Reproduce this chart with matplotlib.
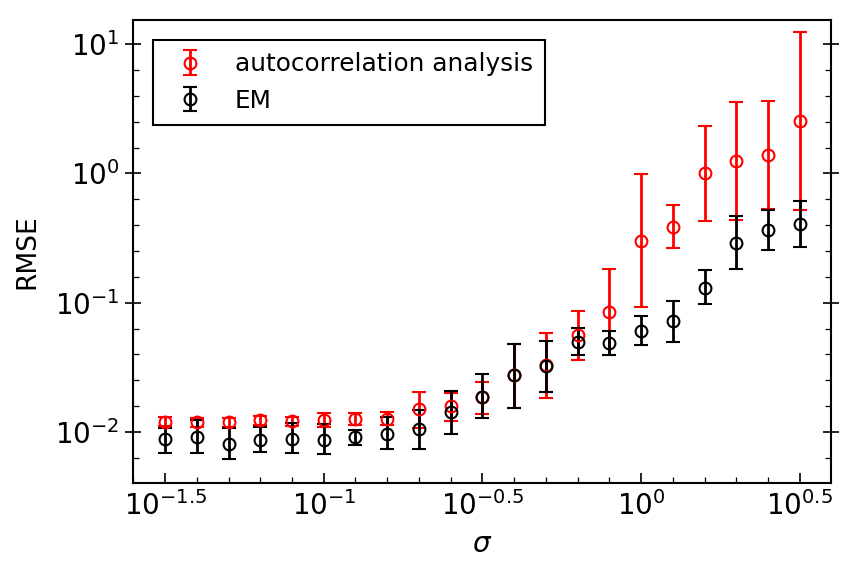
import numpy as np
import matplotlib
matplotlib.use("Agg")
import matplotlib.pyplot as plt
from matplotlib.ticker import FixedLocator, FixedFormatter, LogLocator, NullFormatter

# sigma values (log10 from -1.5 to 0.5 in steps of 0.1)
log_sigma = [-1.5, -1.4, -1.3, -1.2, -1.1, -1.0, -0.9, -0.8, -0.7, -0.6, -0.5,
             -0.4, -0.3, -0.2, -0.1, 0.0, 0.1, 0.2, 0.3, 0.4, 0.5]

# autocorrelation analysis: centre, lower and upper ends of the error bar
ac_mid = [0.0120, 0.0119, 0.0119, 0.0124, 0.0121, 0.0125, 0.0126, 0.0127, 0.0150, 0.0159, 0.0187,
          0.0275, 0.0330, 0.0562, 0.0851, 0.301, 0.386, 1.00, 1.245, 1.387, 2.53]
ac_lo = [0.0111, 0.0110, 0.0110, 0.0114, 0.0111, 0.0110, 0.0113, 0.0113, 0.0108, 0.0122, 0.0138,
         0.0154, 0.0182, 0.0360, 0.0393, 0.092, 0.263, 0.43, 0.435, 0.527, 0.52]
ac_hi = [0.0130, 0.0128, 0.0128, 0.0133, 0.0131, 0.0141, 0.0141, 0.0143, 0.0205, 0.0199, 0.0245,
         0.0484, 0.0580, 0.0861, 0.181, 0.982, 0.569, 2.32, 3.54, 3.62, 12.4]

# EM
em_mid = [0.00877, 0.00919, 0.00816, 0.00865, 0.00891, 0.00865, 0.00920, 0.00975, 0.01052, 0.01419, 0.0187,
          0.0275, 0.0325, 0.0499, 0.0490, 0.0607, 0.0721, 0.131, 0.290, 0.365, 0.410]
em_lo = [0.00683, 0.00683, 0.00624, 0.00703, 0.00690, 0.00675, 0.00792, 0.00746, 0.00746, 0.00964, 0.01288,
         0.01538, 0.0205, 0.0393, 0.0398, 0.0470, 0.0499, 0.0975, 0.181, 0.258, 0.270]
em_hi = [0.01077, 0.0125, 0.0108, 0.01096, 0.0118, 0.01145, 0.01047, 0.01297, 0.01476, 0.0207, 0.0281,
         0.0484, 0.0507, 0.0640, 0.0602, 0.0787, 0.1028, 0.1786, 0.470, 0.526, 0.614]

xtick_pos = [-1.5, -1.0, -0.5, 0.0, 0.5]
xtick_labels = [r'$10^{-1.5}$', r'$10^{-1}$', r'$10^{-0.5}$', r'$10^{0}$', r'$10^{0.5}$']

sigma = 10.0 ** np.array(log_sigma)

fig = plt.figure(figsize=(8.53, 5.73), dpi=100)
ax = fig.add_axes([0.156, 0.157, 0.818, 0.808])

def draw(mid, lo, hi, color, label):
    mid = np.array(mid); lo = np.array(lo); hi = np.array(hi)
    yerr = np.vstack([mid - lo, hi - mid])
    ax.errorbar(sigma, mid, yerr=yerr, fmt='o', mfc='none', mec=color, color=color,
                ecolor=color, ms=8.5, mew=1.5, elinewidth=2.0, capsize=5, capthick=2.0,
                label=label)

draw(ac_mid, ac_lo, ac_hi, 'red', 'autocorrelation analysis')
draw(em_mid, em_lo, em_hi, 'black', 'EM')

ax.set_xscale('log')
ax.set_yscale('log')
ax.set_xlim(10 ** -1.601, 10 ** 0.598)
ax.set_ylim(10 ** -2.394, 10 ** 1.186)

ax.xaxis.set_major_locator(FixedLocator(10.0 ** np.array(xtick_pos)))
ax.xaxis.set_major_formatter(FixedFormatter(xtick_labels))
minor_x = 10.0 ** np.arange(-1.6, 0.61, 0.1)
ax.xaxis.set_minor_locator(FixedLocator(minor_x))
ax.xaxis.set_minor_formatter(NullFormatter())

ax.yaxis.set_major_locator(LogLocator(base=10, numticks=10))
ax.yaxis.set_minor_locator(FixedLocator(10.0 ** np.arange(-2.4, 1.2, 0.2)))
ax.yaxis.set_minor_formatter(NullFormatter())

ax.tick_params(axis='x', which='major', direction='in', length=7, width=1.2, labelsize=20, pad=6)
ax.tick_params(axis='x', which='minor', direction='in', length=4, width=0.9)
ax.tick_params(axis='y', which='major', direction='inout', length=12, width=1.2, labelsize=20,
               left=True, right=True, pad=4)
ax.tick_params(axis='y', which='minor', direction='in', length=4, width=0.9, left=True, right=True)

for s in ax.spines.values():
    s.set_linewidth(1.5)

ax.set_xlabel(r'$\sigma$', fontsize=20, labelpad=6)
ax.set_ylabel('RMSE', fontsize=19, labelpad=10)

leg = ax.legend(loc='upper left', fontsize=17.8, fancybox=False, edgecolor='black',
                framealpha=1, bbox_to_anchor=(0.0287, 0.957), borderpad=0.5,
                borderaxespad=0, labelspacing=0.5)
leg.get_frame().set_linewidth(1.5)

fig.savefig('out.png', dpi=100)
